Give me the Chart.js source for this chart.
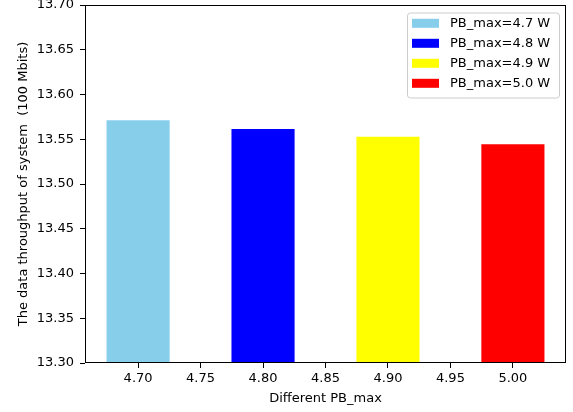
<!DOCTYPE html>
<html lang="en">
<head>
  <meta charset="UTF-8">
  <title>Data throughput vs PB_max</title>
  <script src="https://cdn.jsdelivr.net/npm/chart.js"></script>
  <style>
    body { margin: 0; background: #fff; }
    #wrap { width: 573px; height: 412px; }
  </style>
</head>
<body>
<div id="wrap"><canvas id="chart" width="573" height="412"></canvas></div>
<script>
// data
const pbValues = [4.7, 4.8, 4.9, 5.0];
const seriesLabels = ['PB_max=4.7 W', 'PB_max=4.8 W', 'PB_max=4.9 W', 'PB_max=5.0 W'];
const throughput = [13.571, 13.561, 13.5525, 13.544];
const barColors = ['#87ceeb', '#0000ff', '#ffff00', '#ff0000'];
const xTicks = [4.70, 4.75, 4.80, 4.85, 4.90, 4.95, 5.00];
const yTicks = [13.30, 13.35, 13.40, 13.45, 13.50, 13.55, 13.60, 13.65, 13.70];

Chart.defaults.font.family = 'DejaVu Sans';
Chart.defaults.font.size = 13;
Chart.defaults.color = '#000';

// full box around the plot + matplotlib-style legend in the upper right
const framePlugin = {
  id: 'frame',
  afterDraw(chart) {
    const ctx = chart.ctx;
    const a = chart.chartArea;
    ctx.save();
    ctx.strokeStyle = '#000';
    ctx.lineWidth = 1;
    ctx.strokeRect(Math.round(a.left) + 0.5, Math.round(a.top) + 0.5,
      Math.round(a.right - a.left) - 1, Math.round(a.bottom - a.top) - 1);

    // legend
    const bx = 407, by = 12.5, bw = 152, bh = 85;
    ctx.beginPath();
    ctx.roundRect(bx + 0.5, by + 0.5, bw, bh, 3);
    ctx.fillStyle = 'rgba(255,255,255,0.8)';
    ctx.fill();
    ctx.strokeStyle = '#cccccc';
    ctx.stroke();
    ctx.font = '13px "DejaVu Sans"';
    ctx.textBaseline = 'middle';
    ctx.textAlign = 'left';
    chart.data.datasets.forEach((ds, i) => {
      const cy = 23.3 + i * 20;
      ctx.fillStyle = ds.backgroundColor;
      ctx.fillRect(412, cy - 4.5, 27, 9);
      ctx.fillStyle = '#000';
      ctx.fillText(ds.label, 450, cy + 0.5);
    });
    ctx.restore();
  }
};

const datasets = pbValues.map((pb, i) => ({
  label: seriesLabels[i],
  data: [{ x: pb, y: throughput[i] }],
  backgroundColor: barColors[i],
  borderWidth: 0,
  grouped: false,
  barPercentage: 1.0,
  categoryPercentage: 1.0
}));

new Chart(document.getElementById('chart'), {
  type: 'bar',
  data: { datasets: datasets },
  options: {
    responsive: false,
    animation: false,
    devicePixelRatio: 1,
    layout: { padding: { left: 0, right: 7, top: 5, bottom: 0 } },
    plugins: {
      legend: { display: false },
      tooltip: { enabled: false }
    },
    scales: {
      x: {
        type: 'linear',
        min: 4.6575,
        max: 5.0425,
        offset: false,
        afterBuildTicks: s => { s.ticks = xTicks.map(v => ({ value: v })); },
        afterFit: s => { s.height = 49; s.paddingLeft = 0; s.paddingRight = 0; },
        ticks: { callback: v => v.toFixed(2), padding: 3, maxRotation: 0, autoSkip: false },
        grid: { offset: false, drawOnChartArea: false, drawTicks: true, tickLength: 5, color: '#000' },
        border: { display: false },
        title: { display: true, text: 'Different PB_max', padding: { top: 0, bottom: 6 } }
      },
      y: {
        min: 13.30,
        max: 13.70,
        afterBuildTicks: s => { s.ticks = yTicks.map(v => ({ value: v })); },
        afterFit: s => { s.width = 85; s.paddingTop = 0; s.paddingBottom = 0; },
        ticks: { callback: v => v.toFixed(2), padding: 6, autoSkip: false },
        grid: { drawOnChartArea: false, drawTicks: true, tickLength: 5, color: '#000' },
        border: { display: false },
        title: { display: true, text: 'The data throughput of system  (100 Mbits)', padding: { top: 16, bottom: 0 } }
      }
    }
  },
  plugins: [framePlugin]
});
</script>
</body>
</html>
